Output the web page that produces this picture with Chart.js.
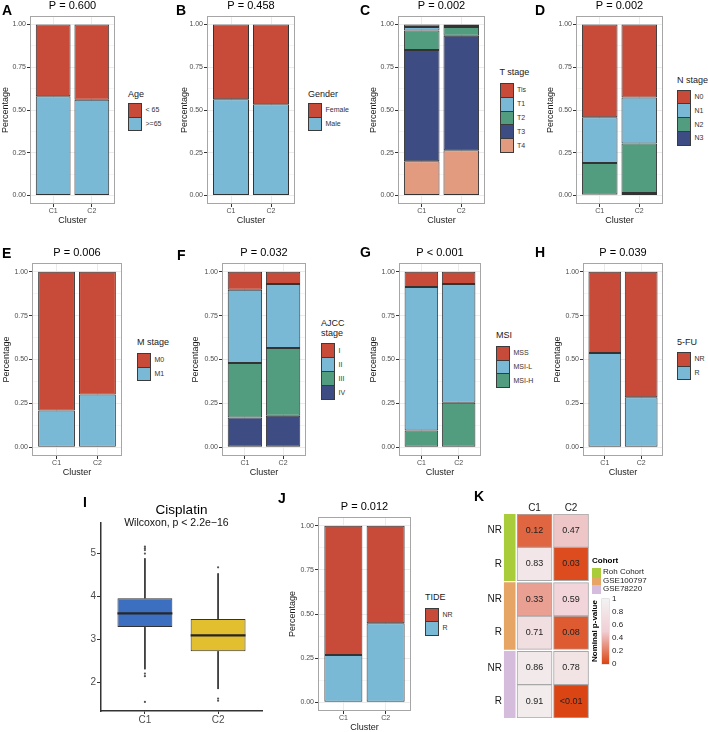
<!DOCTYPE html>
<html>
<head>
<meta charset="utf-8">
<script src="https://cdn.jsdelivr.net/npm/chart.js@4.4.0/dist/chart.umd.min.js"></script>
<style>
body { margin: 0; background: #fff; }
#fig { position: relative; width: 708px; height: 732px; overflow: hidden; background: #fff; font-family: "Liberation Sans", Arial, sans-serif; }
#fig canvas { position: absolute; }
.txt { position: absolute; white-space: pre; }
.tag { position: absolute; font-weight: bold; font-size: 14px; line-height: 14px; color: #000; }
.key { position: absolute; box-sizing: border-box; border: 1px solid #3b3b3b; }
</style>
</head>
<body>
<div id="fig"></div>
<script>
// ---- data ----
var clusters = ["C1", "C2"];

// stacked panels: levels top to bottom as in the legend, share[level][cluster]
var ageLevels = ["< 65", ">=65"];
var ageShare = [[0.42, 0.44], [0.58, 0.56]];
var genderLevels = ["Female", "Male"];
var genderShare = [[0.437, 0.467], [0.563, 0.533]];
var tLevels = ["Tis", "T1", "T2", "T3", "T4"];
var tShare = [[0.014, 0.002], [0.021, 0.012], [0.114, 0.051], [0.651, 0.670], [0.200, 0.265]];
var nLevels = ["N0", "N1", "N2", "N3"];
var nShare = [[0.543, 0.427], [0.267, 0.269], [0.185, 0.290], [0.005, 0.014]];
var mLevels = ["M0", "M1"];
var mShare = [[0.79, 0.70], [0.21, 0.30]];
var ajccLevels = ["I", "II", "III", "IV"];
var ajccShare = [[0.103, 0.070], [0.417, 0.364], [0.310, 0.386], [0.170, 0.180]];
var msiLevels = ["MSS", "MSI-L", "MSI-H"];
var msiShare = [[0.087, 0.069], [0.818, 0.678], [0.095, 0.253]];
var fuLevels = ["NR", "R"];
var fuShare = [[0.463, 0.715], [0.537, 0.285]];
var tideLevels = ["NR", "R"];
var tideShare = [[0.733, 0.553], [0.267, 0.447]];

// cisplatin boxplot
var boxGroups = ["C1", "C2"];
var boxQ1 = [3.28, 2.72];
var boxMedian = [3.60, 3.09];
var boxQ3 = [3.95, 3.47];
var whiskerLow = [2.30, 1.84];
var whiskerHigh = [4.88, 4.53];
var outliers = [[5.15, 5.11, 5.07, 4.99, 2.20, 2.14, 1.54], [4.67, 1.62, 1.57]];
var yTicksBox = [2, 3, 4, 5];

// heatmap K
var heatCols = ["C1", "C2"];
var heatRows = ["NR", "R", "NR", "R", "NR", "R"];
var heatCohorts = ["Roh Cohort", "GSE100797", "GSE78220"];
var heatP = [[0.12, 0.47], [0.83, 0.03], [0.33, 0.59], [0.71, 0.08], [0.86, 0.78], [0.91, 0.005]];
var pBreaks = [1, 0.8, 0.6, 0.4, 0.2, 0];

// ---- style ----
var FONT = '"Liberation Sans", Arial, sans-serif';
var palette = ["#C84B39", "#79B9D6", "#529D80", "#3D4C83", "#E39B80"];
var boxColors = ["#3D6FC1", "#E2BF2E"];
var cohortColors = ["#A8CC3A", "#E6A564", "#D5BCDC"];
var heatStops = [[0, [219, 68, 18]], [0.5, [240, 206, 212]], [1, [243, 243, 243]]];

Chart.defaults.font.family = FONT;
Chart.defaults.color = "#4d4d4d";
Chart.defaults.animation = false;
Chart.defaults.plugins.legend.display = false;
Chart.defaults.plugins.tooltip.enabled = false;

var fig = document.getElementById("fig");

function addCanvas(x, y, w, h) {
	var c = document.createElement("canvas");
	c.width = w; c.height = h;
	c.style.left = x + "px"; c.style.top = y + "px";
	c.style.width = w + "px"; c.style.height = h + "px";
	fig.appendChild(c);
	return c;
}

function addText(txt, x, y, css) {
	var d = document.createElement("div");
	d.className = "txt";
	d.textContent = txt;
	d.style.cssText = "left:" + x + "px;top:" + y + "px;" + (css || "");
	fig.appendChild(d);
	return d;
}

function addBox(x, y, w, h, color, cls) {
	var d = document.createElement("div");
	d.className = cls || "txt";
	d.style.cssText += "position:absolute;left:" + x + "px;top:" + y + "px;width:" + w + "px;height:" + h + "px;background:" + color + ";";
	fig.appendChild(d);
	return d;
}

function pColor(p) {
	for (var k = 1; k < heatStops.length; k++) {
		if (p <= heatStops[k][0]) {
			var a = heatStops[k - 1], b = heatStops[k];
			var t = (p - a[0]) / (b[0] - a[0]);
			var c = a[1].map(function (v, n) { return Math.round(v + (b[1][n] - v) * t); });
			return "rgb(" + c.join(",") + ")";
		}
	}
	return "rgb(" + heatStops[heatStops.length - 1][1].join(",") + ")";
}

function fmtP(p) {
	return p < 0.01 ? "<0.01" : p.toFixed(2);
}

// ---- plugins ----
Chart.register({
	id: "panelTitle",
	afterDraw: function (chart, args, opts) {
		if (!opts.text) return;
		var a = chart.chartArea, ctx = chart.ctx;
		ctx.save();
		ctx.font = opts.size + "px " + FONT;
		ctx.fillStyle = "#000";
		ctx.textAlign = "center";
		ctx.textBaseline = "middle";
		ctx.fillText(opts.text, (a.left + a.right) / 2, a.top - opts.gap);
		ctx.restore();
	}
});

Chart.register({
	id: "panelBorder",
	afterDatasetsDraw: function (chart, args, opts) {
		if (!opts.color) return;
		var a = chart.chartArea, ctx = chart.ctx;
		ctx.save();
		ctx.strokeStyle = opts.color;
		ctx.lineWidth = 1;
		ctx.strokeRect(Math.round(a.left) + 0.5, Math.round(a.top) + 0.5, Math.round(a.right - a.left) - 1, Math.round(a.bottom - a.top) - 1);
		ctx.restore();
	}
});

Chart.register({
	id: "noteText",
	afterDraw: function (chart, args, opts) {
		if (!opts.text) return;
		var ctx = chart.ctx;
		ctx.save();
		ctx.font = opts.size + "px " + FONT;
		ctx.fillStyle = "#111";
		ctx.textAlign = "center";
		ctx.textBaseline = "middle";
		ctx.fillText(opts.text, chart.scales.x.getPixelForValue(opts.x), chart.scales.y.getPixelForValue(opts.y));
		ctx.restore();
	}
});

Chart.register({
	id: "cellText",
	afterDatasetsDraw: function (chart) {
		var ctx = chart.ctx;
		ctx.save();
		ctx.font = "9px " + FONT;
		ctx.fillStyle = "#222";
		ctx.textAlign = "center";
		ctx.textBaseline = "middle";
		chart.data.datasets.forEach(function (ds, i) {
			if (!ds.cellText) return;
			chart.getDatasetMeta(i).data.forEach(function (el, j) {
				ctx.fillText(ds.cellText[j], el.x, (el.y + el.base) / 2);
			});
		});
		ctx.restore();
	}
});

// ---- stacked percentage panels ----
function stackPanel(p) {
	var L = p.area[0], T = p.area[1], R = p.area[2], B = p.area[3];
	var cx = Math.floor(L - p.yW), cy = T - 16;
	var cw = Math.ceil(R + 2 - cx), ch = Math.ceil(B + 24 - cy);
	var datasets = [];
	for (var i = p.levels.length - 1; i >= 0; i--) {
		datasets.push({
			label: p.levels[i],
			data: clusters.map(function (c, j) { return { x: j + 1, y: p.share[i][j] }; }),
			backgroundColor: palette[i],
			borderColor: "#333",
			borderWidth: 1,
			borderSkipped: false,
			inflateAmount: 0,
			barPercentage: 0.9,
			categoryPercentage: 1
		});
	}
	var chart = new Chart(addCanvas(cx, cy, cw, ch), {
		type: "bar",
		data: { datasets: datasets },
		options: {
			responsive: false,
			layout: { padding: { left: L - p.yW - cx, top: 16, right: cx + cw - R, bottom: cy + ch - B - 22 } },
			plugins: {
				panelTitle: { text: p.title, size: 11, gap: 10.5 },
				panelBorder: { color: "#a6a6a6" }
			},
			scales: {
				x: {
					type: "linear", min: 0.4, max: 2.6, stacked: true, offset: false,
					afterBuildTicks: function (s) { s.ticks = clusters.map(function (c, j) { return { value: j + 1 }; }); },
					afterFit: function (s) { s.height = 22; },
					ticks: { callback: function (v, idx) { return clusters[idx]; }, font: { size: 7 }, color: "#4d4d4d", padding: 0, maxRotation: 0, autoSkip: false },
					grid: { offset: false, color: "#ebebeb", tickColor: "#333", tickLength: 3 },
					border: { display: false },
					title: { display: true, text: "Cluster", font: { size: 9 }, color: "#1a1a1a", padding: 0 }
				},
				y: {
					min: -0.05, max: 1.05, stacked: true,
					afterBuildTicks: function (s) { var t = []; for (var k = 0; k <= 8; k++) t.push({ value: k / 8 }); s.ticks = t; },
					afterFit: function (s) { s.width = p.yW; },
					ticks: { callback: function (v) { return (v * 4) % 1 === 0 ? v.toFixed(2) : ""; }, font: { size: 7 }, color: "#4d4d4d", padding: 1, autoSkip: false },
					grid: {
						color: function (ctx) { return ctx.tick && (ctx.tick.value * 4) % 1 === 0 ? "#ebebeb" : "#f5f5f5"; },
						tickColor: function (ctx) { return ctx.tick && (ctx.tick.value * 4) % 1 === 0 ? "#333" : "rgba(0,0,0,0)"; },
						tickLength: 3
					},
					border: { display: false },
					title: { display: true, text: "Percentage", font: { size: 9 }, color: "#1a1a1a", padding: 0 }
				}
			}
		}
	});

	// legend, built from the chart's datasets (top level first)
	var x = p.legend[0], h = p.legend[3];
	addText(p.legendTitle, x, p.legend[1] - 4.75, "font-size:9px;line-height:9.5px;color:#1a1a1a;");
	chart.data.datasets.slice().reverse().forEach(function (ds, k) {
		var top = p.legend[2] + k * h;
		addBox(x, top, 14, h + 1, ds.backgroundColor, "key");
		addText(ds.label, x + 17.5, top + h / 2 - 3.5, "font-size:7px;line-height:8px;color:#333;");
	});
}

var panels = [
	{ title: "P = 0.600", legendTitle: "Age", levels: ageLevels, share: ageShare, area: [30, 16, 115, 204], yW: 30, legend: [128, 95, 103, 13.5] },
	{ title: "P = 0.458", legendTitle: "Gender", levels: genderLevels, share: genderShare, area: [207, 16, 295, 204], yW: 27.5, legend: [308, 95, 103, 13.5] },
	{ title: "P = 0.002", legendTitle: "T stage", levels: tLevels, share: tShare, area: [398, 16, 485, 204], yW: 30, legend: [499.5, 73, 83, 13.8] },
	{ title: "P = 0.002", legendTitle: "N stage", levels: nLevels, share: nShare, area: [576, 16, 663, 204], yW: 30.5, legend: [677, 81, 89.5, 13.8] },
	{ title: "P = 0.006", legendTitle: "M stage", levels: mLevels, share: mShare, area: [32, 263, 122, 456], yW: 31, legend: [137, 343, 353, 13.5] },
	{ title: "P = 0.032", legendTitle: "AJCC\nstage", levels: ajccLevels, share: ajccShare, area: [222, 263, 306, 456], yW: 31.5, legend: [321, 324, 343, 14] },
	{ title: "P < 0.001", legendTitle: "MSI", levels: msiLevels, share: msiShare, area: [399, 263, 481, 456], yW: 31, legend: [496, 336, 346, 13.7] },
	{ title: "P = 0.039", legendTitle: "5-FU", levels: fuLevels, share: fuShare, area: [583, 263, 663, 456], yW: 30.5, legend: [677, 343, 352, 13.7] },
	{ title: "P = 0.012", legendTitle: "TIDE", levels: tideLevels, share: tideShare, area: [318, 517, 411, 711], yW: 30.5, legend: [425, 598, 608, 13.3] }
];
panels.forEach(stackPanel);

// ---- I: cisplatin boxplot ----
var boxWidth = 0.75;
var boxSets = [{
	type: "bar",
	data: boxGroups.map(function (g, j) { return { x: j + 1, y: [boxQ1[j], boxQ3[j]] }; }),
	backgroundColor: boxColors,
	borderColor: "#333",
	borderWidth: 1,
	borderSkipped: false,
	barPercentage: boxWidth,
	categoryPercentage: 1,
	order: 3
}];
boxGroups.forEach(function (g, j) {
	var x = j + 1;
	boxSets.push({ type: "line", data: [{ x: x, y: whiskerHigh[j] }, { x: x, y: boxQ3[j] }], borderColor: "#333", borderWidth: 1, pointRadius: 0, order: 2 });
	boxSets.push({ type: "line", data: [{ x: x, y: boxQ1[j] }, { x: x, y: whiskerLow[j] }], borderColor: "#333", borderWidth: 1, pointRadius: 0, order: 2 });
	boxSets.push({ type: "line", data: [{ x: x - boxWidth / 2, y: boxMedian[j] }, { x: x + boxWidth / 2, y: boxMedian[j] }], borderColor: "#262626", borderWidth: 2.2, pointRadius: 0, order: 1 });
	boxSets.push({ type: "scatter", data: outliers[j].map(function (v) { return { x: x, y: v }; }), pointRadius: 1.1, backgroundColor: "#555", borderWidth: 0, order: 1 });
});

new Chart(addCanvas(81, 495, 185, 234), {
	type: "bar",
	data: { datasets: boxSets },
	options: {
		responsive: false,
		layout: { padding: { left: 0, top: 28, right: 4, bottom: 2 } },
		plugins: {
			panelTitle: { text: "Cisplatin", size: 13.5, gap: 13 },
			noteText: { text: "Wilcoxon, p < 2.2e\u221216", x: 1.43, y: 5.7, size: 10.5 }
		},
		scales: {
			x: {
				type: "linear", min: 0.4, max: 2.6, offset: false,
				afterBuildTicks: function (s) { s.ticks = boxGroups.map(function (g, j) { return { value: j + 1 }; }); },
				afterFit: function (s) { s.height = 16; },
				ticks: { callback: function (v, idx) { return boxGroups[idx]; }, font: { size: 10 }, color: "#4d4d4d", padding: 0, autoSkip: false, maxRotation: 0 },
				grid: { offset: false, drawOnChartArea: false, tickLength: 3, tickColor: "#333" },
				border: { color: "#333", width: 1.5 }
			},
			y: {
				min: 1.33, max: 5.7,
				afterBuildTicks: function (s) { s.ticks = yTicksBox.map(function (v) { return { value: v }; }); },
				afterFit: function (s) { s.width = 20; },
				ticks: { font: { size: 10 }, color: "#4d4d4d", padding: 1 },
				grid: { drawOnChartArea: false, tickLength: 4, tickColor: "#333" },
				border: { color: "#333", width: 1.5 }
			}
		}
	}
});

// ---- K: heatmap ----
var groupGap = 0.06;
var stripX = -0.68;
function rowStart(i) { return i + Math.floor(i / 2) * groupGap; }

var heatSets = [];
heatRows.forEach(function (r, i) {
	heatSets.push({
		label: r,
		data: heatCols.map(function (c, j) { return { x: j, y: [rowStart(i), rowStart(i) + 1] }; }),
		backgroundColor: heatCols.map(function (c, j) { return pColor(heatP[i][j]); }),
		borderColor: "#a8a8a8",
		borderWidth: 1,
		borderSkipped: false,
		barThickness: 35,
		stack: "cells",
		cellText: heatP[i].map(fmtP)
	});
});
heatCohorts.forEach(function (name, g) {
	heatSets.push({
		label: name,
		data: [{ x: stripX, y: [rowStart(2 * g), rowStart(2 * g + 1) + 1] }],
		backgroundColor: cohortColors[g],
		borderWidth: 0,
		barThickness: 11,
		stack: "cells"
	});
});

new Chart(addCanvas(470, 496, 123, 232), {
	type: "bar",
	data: { datasets: heatSets },
	options: {
		responsive: false,
		layout: { padding: { left: 0, top: 0, right: 3.7, bottom: 10 } },
		scales: {
			x: {
				type: "linear", position: "top", min: -0.85, max: 1.5, offset: false,
				afterBuildTicks: function (s) { s.ticks = heatCols.map(function (c, j) { return { value: j }; }); },
				afterFit: function (s) { s.height = 18; },
				ticks: { callback: function (v, idx) { return heatCols[idx]; }, font: { size: 10 }, color: "#1a1a1a", padding: 0, autoSkip: false, maxRotation: 0 },
				grid: { offset: false, display: false, drawTicks: false },
				border: { display: false }
			},
			y: {
				min: 0, max: rowStart(heatRows.length - 1) + 1, reverse: true, stacked: false,
				afterBuildTicks: function (s) { s.ticks = heatRows.map(function (r, i) { return { value: rowStart(i) + 0.5 }; }); },
				afterFit: function (s) { s.width = 33.5; },
				ticks: { callback: function (v, idx) { return heatRows[idx]; }, font: { size: 10 }, color: "#1a1a1a", padding: 1.5, autoSkip: false },
				grid: { display: false, drawTicks: false },
				border: { display: false }
			}
		}
	}
});

// heatmap legends
addText("Cohort", 592, 556, "font-size:8px;line-height:10px;font-weight:bold;color:#000;");
heatCohorts.forEach(function (name, g) {
	var top = 568 + g * 8.5;
	addBox(592, top, 8.5, 8.5, cohortColors[g]);
	addText(name, 603, top + 4.25 - 5, "font-size:8px;line-height:10px;color:#222;");
});
var grad = addBox(602, 599, 7, 65, "linear-gradient(to bottom, " + pColor(1) + ", " + pColor(0.5) + ", " + pColor(0) + ")");
grad.style.boxShadow = "0 0 0 0.5px #c8c8c8";
pBreaks.forEach(function (v) {
	addText(v === 1 || v === 0 ? String(v) : v.toFixed(1), 612, 599 + (1 - v) * 65 - 5, "font-size:8px;line-height:10px;color:#222;");
});
addText("Nominal p-value", 555, 626, "width:80px;height:10px;text-align:center;font-size:8px;line-height:10px;font-weight:bold;color:#000;transform:rotate(-90deg);");

// ---- panel tags ----
[["A", 2, 3], ["B", 176, 3], ["C", 360, 3], ["D", 535, 3],
 ["E", 2, 246], ["F", 177, 248], ["G", 360, 245], ["H", 535, 245],
 ["I", 83, 495], ["J", 278, 491], ["K", 474, 489]].forEach(function (t) {
	var d = document.createElement("div");
	d.className = "tag";
	d.textContent = t[0];
	d.style.left = t[1] + "px";
	d.style.top = t[2] + "px";
	fig.appendChild(d);
});
</script>
</body>
</html>
